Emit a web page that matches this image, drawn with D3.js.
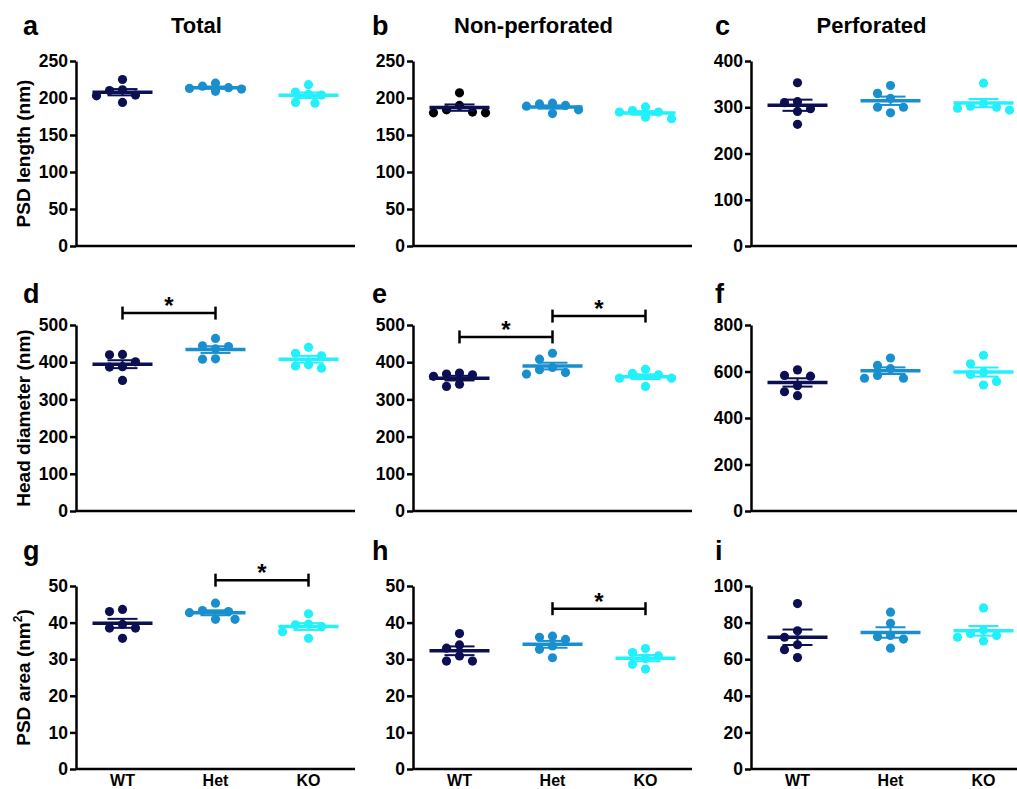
<!DOCTYPE html>
<html lang="en">
<head>
<meta charset="UTF-8">
<title>PSD and spine head measurements</title>
<script src="https://d3js.org/d3.v7.min.js"></script>
<style>
  body { margin: 0; background: #fff; }
  svg { font-family: "Liberation Sans", Arial, sans-serif; font-weight: bold; }
</style>
</head>
<body>
<div id="chart"></div>
<script>
// groups and colours
const groups = ["WT", "Het", "KO"];
const groupColors = ["#0c1052", "#1a8fcd", "#22f0fb"];

// values (6 animals per group)
const lengthTotal   = [[225, 211, 210, 204, 203, 194], [216, 214, 209, 213, 212, 220], [218, 204, 208, 205, 193, 194]];
const lengthNonPerf = [[207, 184, 181, 180, 180, 190], [189, 192, 179, 190, 184, 193], [181, 183, 172, 181, 174, 188]];
const lengthPerf    = [[353, 310, 312, 297, 291, 263], [347, 330, 319, 300, 300, 288], [352, 302, 294, 300, 308, 298]];
const headTotal     = [[421, 420, 401, 388, 387, 351], [464, 444, 442, 436, 409, 408], [440, 424, 417, 390, 393, 384]];
const headNonPerf   = [[368, 366, 371, 362, 335, 341], [424, 408, 380, 386, 372, 368], [381, 370, 357, 366, 357, 335]];
const headPerf      = [[607, 583, 580, 539, 513, 496], [658, 626, 612, 583, 571, 571], [670, 633, 597, 587, 557, 542]];
const areaTotal     = [[43.6, 43, 38.5, 39.5, 38.5, 35.7], [45.3, 43, 42.7, 43.3, 40.9, 40.9], [42.4, 39.4, 39.6, 38.9, 37.5, 35.7]];
const areaNonPerf   = [[37, 33.9, 33, 30.9, 29.5, 29.5], [36, 35.4, 36.3, 33.6, 32.7, 30.4], [32.9, 31.8, 30.9, 30.2, 28.6, 27.3]];
const areaPerf      = [[90.4, 75.5, 72, 67.9, 65.2, 60.9], [85.7, 79.6, 72.3, 71, 66, 73], [88, 73, 76, 72, 70, 74]];

// significance brackets: [from group, to group, height in data units]
const sigHeadTotal   = [[0, 1, 532]];
const sigHeadNonPerf = [[0, 1, 468], [1, 2, 524]];
const sigAreaTotal   = [[1, 2, 51.6]];
const sigAreaNonPerf = [[1, 2, 43.8]];

const columnTitles = ["Total", "Non-perforated", "Perforated"];
// [main text, superscript, closing text]
const rowLabels = [["PSD length (nm)", "", ""], ["Head diameter (nm)", "", ""], ["PSD area (nm", "2", ")"]];

const panels = [
  { letter: "a", row: 0, col: 0, max: 250, step: 50,  values: lengthTotal,   sig: [] },
  { letter: "b", row: 0, col: 1, max: 250, step: 50,  values: lengthNonPerf, sig: [], dotOverride: ["#000", null, null] },
  { letter: "c", row: 0, col: 2, max: 400, step: 100, values: lengthPerf,    sig: [] },
  { letter: "d", row: 1, col: 0, max: 500, step: 100, values: headTotal,     sig: sigHeadTotal },
  { letter: "e", row: 1, col: 1, max: 500, step: 100, values: headNonPerf,   sig: sigHeadNonPerf },
  { letter: "f", row: 1, col: 2, max: 800, step: 200, values: headPerf,      sig: [] },
  { letter: "g", row: 2, col: 0, max: 50,  step: 10,  values: areaTotal,     sig: sigAreaTotal },
  { letter: "h", row: 2, col: 1, max: 50,  step: 10,  values: areaNonPerf,   sig: sigAreaNonPerf },
  { letter: "i", row: 2, col: 2, max: 100, step: 20,  values: areaPerf,      sig: [] }
];

// layout
const width = 1017, height = 789;
const axisX = [76, 413, 751];
const plotW = 279;
const rowTop = [61, 325, 586];
const rowZero = [246, 511, 769];
const letterX = [23, 372, 715];
const letterY = [35, 303, 560];
const dotR = 4.6;

const svg = d3.select("#chart").append("svg")
    .attr("width", width)
    .attr("height", height);

// column titles
svg.selectAll(".col-title")
  .data(columnTitles)
  .join("text")
    .attr("class", "col-title")
    .attr("x", (d, i) => axisX[i] + plotW / 2 - 19)
    .attr("y", 33)
    .attr("text-anchor", "middle")
    .attr("font-size", 22)
    .text(d => d);

// row labels (rotated)
rowLabels.forEach(([main, sup, tail], r) => {
  const t = svg.append("text")
      .attr("transform", `translate(30,${(rowTop[r] + rowZero[r]) / 2}) rotate(-90)`)
      .attr("text-anchor", "middle")
      .attr("font-size", 19);
  t.append("tspan").text(main);
  if (sup) {
    t.append("tspan").attr("font-size", 12).attr("dy", -8).text(sup);
    t.append("tspan").attr("dy", 8).text(tail);
  }
});

// simple dodge so overlapping dots spread sideways
function dodge(ys, step) {
  const order = d3.range(ys.length).sort((a, b) => ys[a] - ys[b]);
  const cands = [0, -1, 1, -0.5, 0.5, -1.5, 1.5, -2, 2].map(k => k * step);
  const placed = [];
  const out = new Array(ys.length);
  order.forEach(i => {
    const y = ys[i];
    let off = cands.find(c => placed.every(p => Math.hypot(p.x - c, p.y - y) >= 2 * dotR + 0.4));
    if (off === undefined) off = 0;
    placed.push({ x: off, y: y });
    out[i] = off;
  });
  return out;
}

panels.forEach(p => {
  const x0 = axisX[p.col];
  const g = svg.append("g");

  const x = d3.scaleBand().domain(d3.range(3)).range([x0, x0 + plotW]);
  const y = d3.scaleLinear().domain([0, p.max]).range([rowZero[p.row], rowTop[p.row]]);

  // panel letter
  svg.append("text")
      .attr("x", letterX[p.col])
      .attr("y", letterY[p.row])
      .attr("font-size", 27)
      .text(p.letter);

  // x axis line
  g.append("line")
      .attr("x1", x0).attr("x2", x0 + plotW)
      .attr("y1", y(0)).attr("y2", y(0))
      .attr("stroke", "#000").attr("stroke-width", 2.5);

  // y axis
  const yAxis = g.append("g")
      .attr("transform", `translate(${x0},0)`)
      .call(d3.axisLeft(y).tickValues(d3.range(0, p.max + 0.001, p.step)).tickSize(6).tickSizeOuter(0).tickPadding(2));
  yAxis.select(".domain").attr("stroke-width", 2.5);
  yAxis.selectAll(".tick line").attr("stroke-width", 2.5);
  yAxis.selectAll(".tick text")
      .attr("font-size", 17.5)
      .attr("font-family", "'Liberation Sans', Arial, sans-serif")
      .attr("font-weight", "bold")
      .attr("fill", "#000");

  // dots, mean and SEM per group
  p.values.forEach((vals, gi) => {
    const cx = x(gi) + x.bandwidth() / 2;
    const col = groupColors[gi];
    const offs = dodge(vals.map(v => y(v)), 13);

    g.append("g").selectAll("circle")
      .data(vals)
      .join("circle")
        .attr("cx", (d, i) => cx + offs[i])
        .attr("cy", d => y(d))
        .attr("r", dotR)
        .attr("fill", (p.dotOverride && p.dotOverride[gi]) || col);

    const mean = d3.mean(vals);
    const sem = d3.deviation(vals) / Math.sqrt(vals.length);

    const eb = g.append("g").attr("stroke", col);
    eb.append("line")
        .attr("x1", cx).attr("x2", cx)
        .attr("y1", y(mean - sem)).attr("y2", y(mean + sem))
        .attr("stroke-width", 2);
    [mean - sem, mean + sem].forEach(v => {
      eb.append("line")
          .attr("x1", cx - 15).attr("x2", cx + 15)
          .attr("y1", y(v)).attr("y2", y(v))
          .attr("stroke-width", 2);
    });
    eb.append("line")
        .attr("x1", cx - 30).attr("x2", cx + 30)
        .attr("y1", y(mean)).attr("y2", y(mean))
        .attr("stroke-width", 3.5);
  });

  // significance brackets
  p.sig.forEach(([a, b, h]) => {
    const xa = x(a) + x.bandwidth() / 2;
    const xb = x(b) + x.bandwidth() / 2;
    const yy = y(h);
    const s = g.append("g").attr("stroke", "#000").attr("stroke-width", 2.5);
    s.append("line").attr("x1", xa).attr("x2", xb).attr("y1", yy).attr("y2", yy);
    s.append("line").attr("x1", xa).attr("x2", xa).attr("y1", yy - 6.5).attr("y2", yy + 6.5);
    s.append("line").attr("x1", xb).attr("x2", xb).attr("y1", yy - 6.5).attr("y2", yy + 6.5);
    g.append("text")
        .attr("x", (xa + xb) / 2)
        .attr("y", yy + 1)
        .attr("text-anchor", "middle")
        .attr("font-size", 24)
        .text("*");
  });

  // group names under the bottom row
  if (p.row === 2) {
    g.selectAll(".cat")
      .data(groups)
      .join("text")
        .attr("class", "cat")
        .attr("x", (d, i) => x(i) + x.bandwidth() / 2)
        .attr("y", 786)
        .attr("text-anchor", "middle")
        .attr("font-size", 16)
        .text(d => d);
  }
});
</script>
</body>
</html>
